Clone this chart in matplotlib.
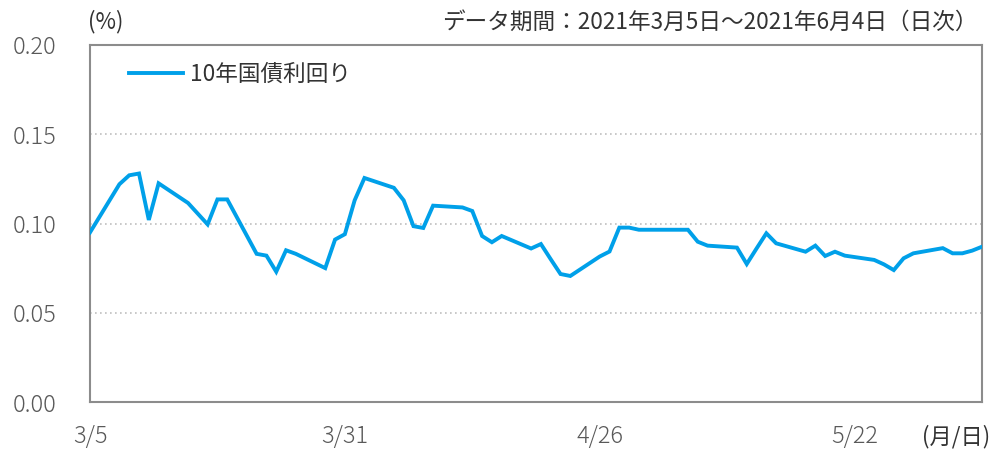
import matplotlib
matplotlib.use("Agg")
import matplotlib.pyplot as plt
import pandas as pd

plt.rcParams['font.family'] = ['Noto Sans CJK JP', 'DejaVu Sans']

dates = [
    "2021-03-05", "2021-03-08", "2021-03-09", "2021-03-10", "2021-03-11", "2021-03-12",
    "2021-03-15", "2021-03-16", "2021-03-17", "2021-03-18", "2021-03-19",
    "2021-03-22", "2021-03-23", "2021-03-24", "2021-03-25", "2021-03-26",
    "2021-03-29", "2021-03-30", "2021-03-31", "2021-04-01", "2021-04-02",
    "2021-04-05", "2021-04-06", "2021-04-07", "2021-04-08", "2021-04-09",
    "2021-04-12", "2021-04-13", "2021-04-14", "2021-04-15", "2021-04-16",
    "2021-04-19", "2021-04-20", "2021-04-21", "2021-04-22", "2021-04-23",
    "2021-04-26", "2021-04-27", "2021-04-28", "2021-04-29", "2021-04-30",
    "2021-05-03", "2021-05-04", "2021-05-05", "2021-05-06", "2021-05-07",
    "2021-05-10", "2021-05-11", "2021-05-12", "2021-05-13", "2021-05-14",
    "2021-05-17", "2021-05-18", "2021-05-19", "2021-05-20", "2021-05-21",
    "2021-05-24", "2021-05-25", "2021-05-26", "2021-05-27", "2021-05-28",
    "2021-05-31", "2021-06-01", "2021-06-02", "2021-06-03", "2021-06-04",
]
yields = [
    0.095, 0.122, 0.127, 0.128, 0.102, 0.1225,
    0.1115, 0.1055, 0.0995, 0.1135, 0.1135,
    0.083, 0.082, 0.073, 0.085, 0.083,
    0.075, 0.091, 0.094, 0.113, 0.1255,
    0.120, 0.113, 0.0985, 0.0975, 0.110,
    0.109, 0.107, 0.093, 0.0895, 0.093,
    0.086, 0.0885, 0.080, 0.0717, 0.0706,
    0.0815, 0.0843, 0.0977, 0.0977, 0.0965,
    0.0965, 0.0965, 0.0965, 0.0898, 0.0876,
    0.0865, 0.0773, 0.086, 0.0945, 0.0889,
    0.0842, 0.0876, 0.0818, 0.0842, 0.082,
    0.0796, 0.0771, 0.0739, 0.0805, 0.0833,
    0.0862, 0.0833, 0.0833, 0.0848, 0.087,
]
tick_dates = ["2021-03-05", "2021-03-31", "2021-04-26", "2021-05-22"]
tick_labels = ["3/5", "3/31", "4/26", "5/22"]
y_ticks = [0.00, 0.05, 0.10, 0.15, 0.20]
y_tick_labels = ["0.00", "0.05", "0.10", "0.15", "0.20"]

x = pd.to_datetime(dates)

fig = plt.figure(figsize=(9.93, 4.49), dpi=100)
ax = fig.add_axes([90/993, 47/449, 892/993, 357/449])

line_color = "#00A0E9"
text_color = "#333333"
tick_color = "#595959"

ax.plot(x, yields, color=line_color, lw=2.8, solid_joinstyle='miter',
        label="10年国債利回り", zorder=3)

ax.set_xlim(pd.Timestamp("2021-03-05"), pd.Timestamp("2021-06-04"))
ax.set_ylim(0, 0.20)
ax.set_yticks(y_ticks)
ax.set_yticklabels(y_tick_labels)
ax.set_xticks(pd.to_datetime(tick_dates))
ax.set_xticklabels(tick_labels)

for v in y_ticks[1:-1]:
    ax.axhline(v, color="#BFBFBF", lw=1.2, ls=(0, (1, 2)), zorder=1)

for s in ax.spines.values():
    s.set_color("#8C8C8C")
    s.set_linewidth(1.5)

ax.tick_params(axis='both', length=0, colors=tick_color, labelsize=17)
ax.tick_params(axis='y', pad=24)
ax.tick_params(axis='x', pad=16)
for lab in ax.get_xticklabels() + ax.get_yticklabels():
    lab.set_fontweight('light')

leg = ax.legend(loc='center left', bbox_to_anchor=((129-90)/892, (402-74)/357),
                frameon=False, fontsize=16.3, handlelength=2.4, handletextpad=0.3,
                borderaxespad=0, borderpad=0)
for t in leg.get_texts():
    t.set_color(text_color)

fig.text(88/993, 1 - 22/449, "(%)", ha='left', va='center', fontsize=16, color=text_color)
fig.text(978/993, 1 - 22/449, "データ期間：2021年3月5日～2021年6月4日（日次）", ha='right',
         va='center', fontsize=16.3, color=text_color)
fig.text(990/993, 1 - 437/449, "(月/日)", ha='right', va='center', fontsize=16, color=text_color)

fig.savefig("out.png", dpi=100, facecolor="white")
